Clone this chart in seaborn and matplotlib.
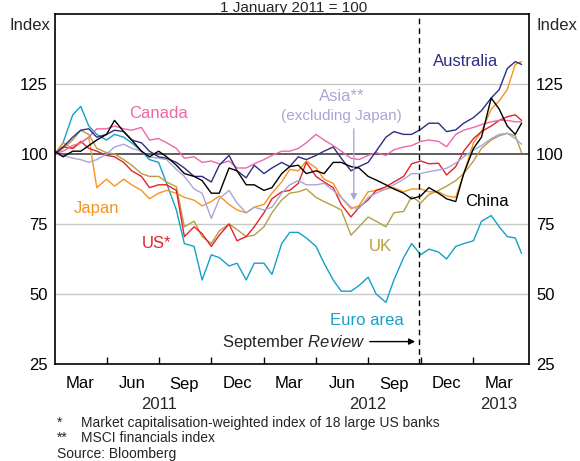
import pandas as pd
import numpy as np
import seaborn as sns
import matplotlib.pyplot as plt

# Sampling dates: 1st and 15th of each month, plus the last observation
dates = [f"{y}-{m:02d}-{d:02d}" for y in (2011, 2012) for m in range(1, 13) for d in (1, 15)]
dates += ["2013-01-01", "2013-01-15", "2013-02-01", "2013-02-15", "2013-03-01", "2013-03-15", "2013-03-26"]

australia = [100, 102.5, 106, 108.5, 109, 106, 107, 108.5, 108, 105, 104, 101, 99, 98.5, 97, 95, 92, 92, 90, 96, 99.5, 94, 91.5, 96,
             93, 95, 97, 95.5, 99, 98, 99.5, 101, 102.5, 98.5, 94, 95.5, 97, 101, 106, 108, 107, 107, 108.8, 111, 111, 108, 108.6, 111,
             113, 115.5, 120, 123, 130.5, 133, 132]
canada = [100, 101, 103, 104, 106, 109, 109, 110, 109, 108.5, 109.5, 105, 105.5, 104, 102, 98.5, 99, 97, 97.5, 96.5, 97.5, 95, 95, 96.5,
          98, 99.5, 101, 101, 102, 104, 107, 105, 103, 101, 98.5, 98, 99.5, 100.5, 99.5, 101.5, 102.5, 103, 104.5, 105, 104.5, 102.6, 107, 108.5,
          109.5, 110.5, 111.5, 112, 112, 111.5, 111.5]
asia = [100, 99.5, 98.5, 98, 97, 98, 100, 102.5, 103.5, 102, 101, 99, 98.5, 98, 94.5, 92, 87.5, 86, 77, 84, 87, 82.5, 79, 81,
        80, 81, 86, 89, 90.5, 89, 89, 89.5, 87, 84.5, 81, 80.5, 84.5, 86, 87.5, 89, 91, 93, 93, 93.7, 94.3, 94.9, 96.7, 99,
        101.4, 103, 105.5, 107, 107.4, 105.5, 103.5]
japan = [100, 104, 102, 104, 106, 88, 91, 88.5, 91, 89, 87, 84, 86, 87, 86, 84.5, 83.5, 81.5, 83, 85, 82, 80, 79, 81,
         82, 86, 90, 94.5, 94, 97.5, 95, 91, 89.5, 84.5, 80.5, 81.5, 86.5, 87, 87.5, 88, 86.5, 87.5, 87.5, 86.5, 86.5, 85, 84.5, 93,
         104, 108, 116, 119, 123, 132, 133]
us = [100, 102.5, 102, 104.5, 102, 101, 99.5, 99, 97, 94, 92, 88, 89, 89, 87, 70.5, 74, 71.5, 67, 71, 75, 69, 70.5, 74,
      79, 84, 86.5, 87, 89.5, 97, 92, 90, 88, 82, 77.5, 81, 83.6, 87, 88.3, 90, 92, 96.5, 97.5, 96.5, 96.7, 92.5, 95.5, 101,
      105.5, 108, 110, 112, 113.3, 114, 112]
uk = [100, 102, 105, 108.5, 107, 102, 100.5, 100, 98, 96, 93, 92, 92, 90, 88.3, 74, 76, 70.5, 68, 72.5, 75, 73, 70.5, 71,
      74, 79, 83.6, 86, 86.5, 87.5, 84.5, 83, 81.5, 80, 71, 74, 77.5, 76, 74, 79, 79.5, 84.8, 82.5, 85.5, 87, 88.5, 90.5, 93,
      97.5, 102, 105, 106.5, 107.4, 106.5, 100.5]
china = [101, 99, 101, 101, 103, 105, 107, 112, 108, 105, 101, 99, 101, 99, 96, 93, 92, 90.5, 86, 86, 95, 94, 89, 89,
         87, 88, 93, 95.5, 96, 93, 94, 93, 97, 97, 95.5, 95, 92, 90.7, 89, 87.5, 86, 84, 85, 88, 86, 84, 83, 93,
         102, 106, 120, 116, 110, 107, 111]
euro = [100, 104, 114, 117, 110, 107, 105, 107, 106, 104, 101, 98, 97, 89.5, 80, 68, 67, 55, 64, 63, 60, 61, 55, 61,
        61, 57, 68, 72, 72, 70, 67, 61, 55, 51, 51, 53, 56, 50, 47, 55, 63, 68, 64, 66, 65, 62.5, 67, 68,
        69, 76, 78, 74, 70.5, 70, 64.5]

series = {"Euro area": euro, "UK": uk, "Japan": japan, "US": us, "Asia": asia,
          "Canada": canada, "Australia": australia, "China": china}
colors = {"Euro area": "#14a0c8", "UK": "#b69f3e", "Japan": "#f7941d", "US": "#e1232b",
          "Asia": "#aaa5d8", "Canada": "#f066a8", "Australia": "#2e2d80", "China": "#000000"}

df = pd.concat([pd.DataFrame({"date": pd.to_datetime(dates), "value": v, "series": k})
                for k, v in series.items()], ignore_index=True)

sns.set_theme(style="white")
plt.rcParams["font.family"] = ["Liberation Sans", "DejaVu Sans"]
plt.rcParams["mathtext.fontset"] = "custom"
plt.rcParams["mathtext.rm"] = "Liberation Sans"
plt.rcParams["mathtext.it"] = "Liberation Sans:italic"

fig = plt.figure(figsize=(5.8, 4.61), dpi=100)
ax = fig.add_axes([55 / 580, 1 - 364 / 461, 474 / 580, 350 / 461])

# gridlines
for g in (50, 75, 125):
    ax.axhline(g, color="#c8c8c8", lw=1.0, zorder=1)
ax.axhline(100, color="#505050", lw=1.3, zorder=1)

sns.lineplot(data=df, x="date", y="value", hue="series", palette=colors,
             hue_order=list(series.keys()), legend=False, lw=1.0, ax=ax, zorder=2)

# September Review marker
ax.axvline(pd.Timestamp("2012-09-27"), color="black", lw=1.0, ls=(0, (4, 3)), zorder=3)

ax.set_xlim(pd.Timestamp("2011-01-01"), pd.Timestamp("2013-04-08"))
ax.set_ylim(25, 150)
ax.set_yticks([25, 50, 75, 100, 125])
ax.tick_params(axis="y", length=0, labelsize=12, colors="black", labelright=True, pad=5)
ax.set_xlabel("")
ax.set_ylabel("")

quarters = pd.date_range("2011-04-01", "2013-01-01", freq="QS")
mids = pd.to_datetime(["2011-02-14", "2011-05-16", "2011-08-15", "2011-11-15", "2012-02-14",
                       "2012-05-16", "2012-08-15", "2012-11-15", "2013-02-14"])
ax.set_xticks(quarters)
ax.set_xticklabels([])
ax.set_xticks(mids, minor=True)
ax.set_xticklabels(["Mar", "Jun", "Sep", "Dec", "Mar", "Jun", "Sep", "Dec", "Mar"], minor=True)
ax.tick_params(axis="x", which="major", direction="in", length=5, width=1, color="black", bottom=True)
ax.tick_params(axis="x", which="minor", length=0, pad=9, labelsize=12, colors="black")

for yr, d in (("2011", "2011-07-01"), ("2012", "2012-07-01"), ("2013", "2013-02-14")):
    ax.text(pd.Timestamp(d), -0.115, yr, transform=ax.get_xaxis_transform(),
            ha="center", va="center", fontsize=12)

for s in ax.spines.values():
    s.set_color("black")
    s.set_linewidth(1.2)

# series labels
lab = [("Canada", "Canada", "2011-06-30", 114.3), ("Australia", "Australia", "2012-12-18", 133.2),
       ("China", "China", "2013-01-24", 82.9), ("UK", "UK", "2012-07-23", 66.8),
       ("Euro area", "Euro area", "2012-06-28", 40.7), ("Japan", "Japan", "2011-03-15", 80.4),
       ("US*", "US", "2011-06-27", 68.2)]
for name, key, d, v in lab:
    ax.text(pd.Timestamp(d), v, name, color=colors[key], ha="center", va="center", fontsize=12)
ax.text(pd.Timestamp("2012-05-16"), 120.5, "Asia**", color=colors["Asia"], ha="center", va="center", fontsize=12)
ax.text(pd.Timestamp("2012-05-16"), 113.6, "(excluding Japan)", color=colors["Asia"], ha="center", va="center", fontsize=11)
ax.annotate("", xy=(pd.Timestamp("2012-06-06"), 82.5), xytext=(pd.Timestamp("2012-06-06"), 110),
            arrowprops=dict(arrowstyle="-|>", color=colors["Asia"], lw=1, mutation_scale=9))

ax.text(pd.Timestamp("2012-06-27"), 32.5, "September $\\mathit{Review}$", ha="right", va="center", fontsize=12)
ax.annotate("", xy=(pd.Timestamp("2012-09-26"), 33), xytext=(pd.Timestamp("2012-06-29"), 33),
            arrowprops=dict(arrowstyle="-|>", color="black", lw=1, mutation_scale=9))

fig.text(294 / 580, 1 - 12 / 461, "1 January 2011 = 100", ha="center", va="baseline", fontsize=11)
fig.text(50 / 580, 1 - 26 / 461, "Index", ha="right", va="center", fontsize=12)
fig.text(537 / 580, 1 - 26 / 461, "Index", ha="left", va="center", fontsize=12)

fig.text(57 / 580, 1 - 423 / 461, "*", ha="left", va="center", fontsize=10)
fig.text(81 / 580, 1 - 423 / 461, "Market capitalisation-weighted index of 18 large US banks", ha="left", va="center", fontsize=10)
fig.text(57 / 580, 1 - 438 / 461, "**", ha="left", va="center", fontsize=10)
fig.text(81 / 580, 1 - 438 / 461, "MSCI financials index", ha="left", va="center", fontsize=10)
fig.text(57 / 580, 1 - 454 / 461, "Source: Bloomberg", ha="left", va="center", fontsize=10)

fig.savefig("out.png", dpi=100)
